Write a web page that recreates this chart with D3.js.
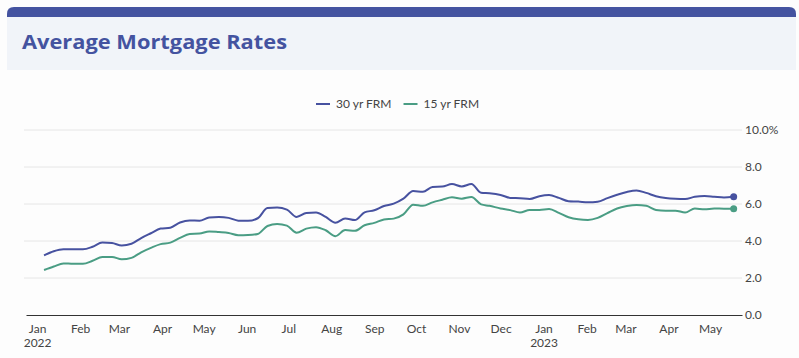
<!DOCTYPE html>
<html><head><meta charset="utf-8">
<script src="https://cdn.jsdelivr.net/npm/d3@7"></script>
<style>
html,body{margin:0;padding:0;background:#fdfdfd;}
svg{display:block;font-family:"Lato","Noto Sans",sans-serif;}
</style></head>
<body><svg id="c" width="799" height="358"></svg>
<script>
const dates = ["2022-01-06","2022-01-13","2022-01-20","2022-01-27","2022-02-03","2022-02-10","2022-02-17","2022-02-24","2022-03-03","2022-03-10","2022-03-17","2022-03-24","2022-03-31","2022-04-07","2022-04-14","2022-04-21","2022-04-28","2022-05-05","2022-05-12","2022-05-19","2022-05-26","2022-06-02","2022-06-09","2022-06-16","2022-06-23","2022-06-30","2022-07-07","2022-07-14","2022-07-21","2022-07-28","2022-08-04","2022-08-11","2022-08-18","2022-08-25","2022-09-01","2022-09-08","2022-09-15","2022-09-22","2022-09-29","2022-10-06","2022-10-13","2022-10-20","2022-10-27","2022-11-03","2022-11-10","2022-11-17","2022-11-23","2022-12-01","2022-12-08","2022-12-15","2022-12-22","2022-12-29","2023-01-05","2023-01-12","2023-01-19","2023-01-26","2023-02-02","2023-02-09","2023-02-16","2023-02-23","2023-03-02","2023-03-09","2023-03-16","2023-03-23","2023-03-30","2023-04-06","2023-04-13","2023-04-20","2023-04-27","2023-05-04","2023-05-11","2023-05-18"];
const frm30 = [3.22,3.45,3.56,3.55,3.55,3.69,3.92,3.89,3.76,3.85,4.16,4.42,4.67,4.72,5.00,5.11,5.10,5.27,5.30,5.25,5.10,5.09,5.23,5.78,5.81,5.70,5.30,5.51,5.54,5.30,4.99,5.22,5.13,5.55,5.66,5.89,6.02,6.29,6.70,6.66,6.92,6.94,7.08,6.95,7.08,6.61,6.58,6.49,6.33,6.31,6.27,6.42,6.48,6.33,6.15,6.13,6.09,6.12,6.32,6.50,6.65,6.73,6.60,6.42,6.32,6.28,6.27,6.39,6.43,6.39,6.35,6.39];
const frm15 = [2.43,2.62,2.79,2.77,2.77,2.93,3.14,3.14,3.01,3.09,3.39,3.63,3.83,3.91,4.17,4.38,4.40,4.52,4.48,4.43,4.31,4.32,4.38,4.81,4.92,4.83,4.45,4.67,4.75,4.58,4.26,4.59,4.55,4.85,4.98,5.16,5.21,5.44,5.96,5.90,6.09,6.23,6.36,6.29,6.38,5.98,5.90,5.76,5.67,5.54,5.68,5.68,5.73,5.52,5.28,5.17,5.14,5.25,5.51,5.76,5.89,5.95,5.90,5.68,5.64,5.64,5.54,5.76,5.71,5.76,5.75,5.75];
const seriesNames = ["30 yr FRM","15 yr FRM"];
const yTicks = [0,2,4,6,8,10];
const title = "Average Mortgage Rates";

const colors = ["#4752a0","#4a9d84"];
const parse = d3.timeParse("%Y-%m-%d");
const ds = dates.map(parse);
const series = [frm30, frm15].map((vals,i)=>({name:seriesNames[i], color:colors[i], pts: vals.map((v,j)=>({d:ds[j], v}))}));

const svg = d3.select("#c");
// header
svg.append("path")
  .attr("d", "M7,13 Q7,7 13,7 L790,7 Q796,7 796,13 L796,70 L7,70 Z")
  .attr("fill","#f1f4f9");
svg.append("path")
  .attr("d", "M7,14 Q7,7 14,7 L789,7 Q796,7 796,14 L796,17 L7,17 Z")
  .attr("fill","#4453a0");
svg.append("text").attr("x",22).attr("y",49).text(title)
  .attr("font-size",20).attr("font-weight",700).attr("fill","#4453a0")
  .attr("font-family","'Open Sans', sans-serif")
  .attr("textLength",265).attr("lengthAdjust","spacingAndGlyphs");

const x = d3.scaleTime().domain([parse("2021-12-24"), parse("2023-05-24")]).range([26,742]);
const y = d3.scaleLinear().domain([0,10]).range([315,130]);

// grid
const g = svg.append("g");
g.selectAll("line.grid").data(yTicks.filter(t=>t>0)).join("line")
  .attr("x1",24).attr("x2",742).attr("y1",d=>y(d)).attr("y2",d=>y(d))
  .attr("stroke","#e6e6e6").attr("stroke-width",1);

// y axis labels
const yAxis = d3.axisRight(y).tickValues(yTicks).tickSize(0).tickPadding(3)
  .tickFormat(d=> d===10 ? "10.0%" : d.toFixed(1));
const ya = svg.append("g").attr("transform","translate(742,0)").call(yAxis);
ya.select(".domain").remove();
ya.selectAll("text").attr("font-size",12).attr("fill","#444").attr("font-family","Lato, sans-serif");

// x axis
const months = d3.timeMonth.range(parse("2022-01-01"), parse("2023-05-24"));
const xAxis = d3.axisBottom(x).tickValues(months).tickSize(0).tickPadding(9)
  .tickFormat(d3.timeFormat("%b"));
const xa = svg.append("g").attr("transform","translate(0,315)").call(xAxis);
xa.select(".domain").attr("stroke","#333").attr("stroke-width",1.2);
xa.selectAll("text").attr("font-size",12).attr("fill","#444").attr("font-family","Lato, sans-serif");
xa.selectAll(".tick").filter(d=>d.getMonth()===0).append("text")
  .attr("y",23).attr("dy","0.71em").attr("fill","#444").attr("font-size",12)
  .attr("text-anchor","middle").attr("font-family","Lato, sans-serif")
  .text(d=>d.getFullYear());

// lines
const line = d3.line().x(p=>x(p.d)).y(p=>y(p.v)).curve(d3.curveMonotoneX);
series.forEach(s=>{
  svg.append("path").datum(s.pts).attr("d",line).attr("fill","none")
    .attr("stroke",s.color).attr("stroke-width",2).attr("stroke-linejoin","round");
  const last = s.pts[s.pts.length-1];
  svg.append("circle").attr("cx",x(last.d)).attr("cy",y(last.v)).attr("r",3.5).attr("fill",s.color);
});

// legend
const leg = svg.append("g").attr("transform","translate(316,104)");
let lx = 0;
series.forEach(s=>{
  const it = leg.append("g").attr("transform",`translate(${lx},0)`);
  it.append("line").attr("x1",0).attr("x2",14).attr("y1",0).attr("y2",0).attr("stroke",s.color).attr("stroke-width",2);
  const t = it.append("text").attr("x",20).attr("y",0).attr("dy","0.35em").attr("font-size",12).attr("fill","#444").text(s.name);
  lx += 20 + t.node().getComputedTextLength() + 12;
});
</script></body></html>
